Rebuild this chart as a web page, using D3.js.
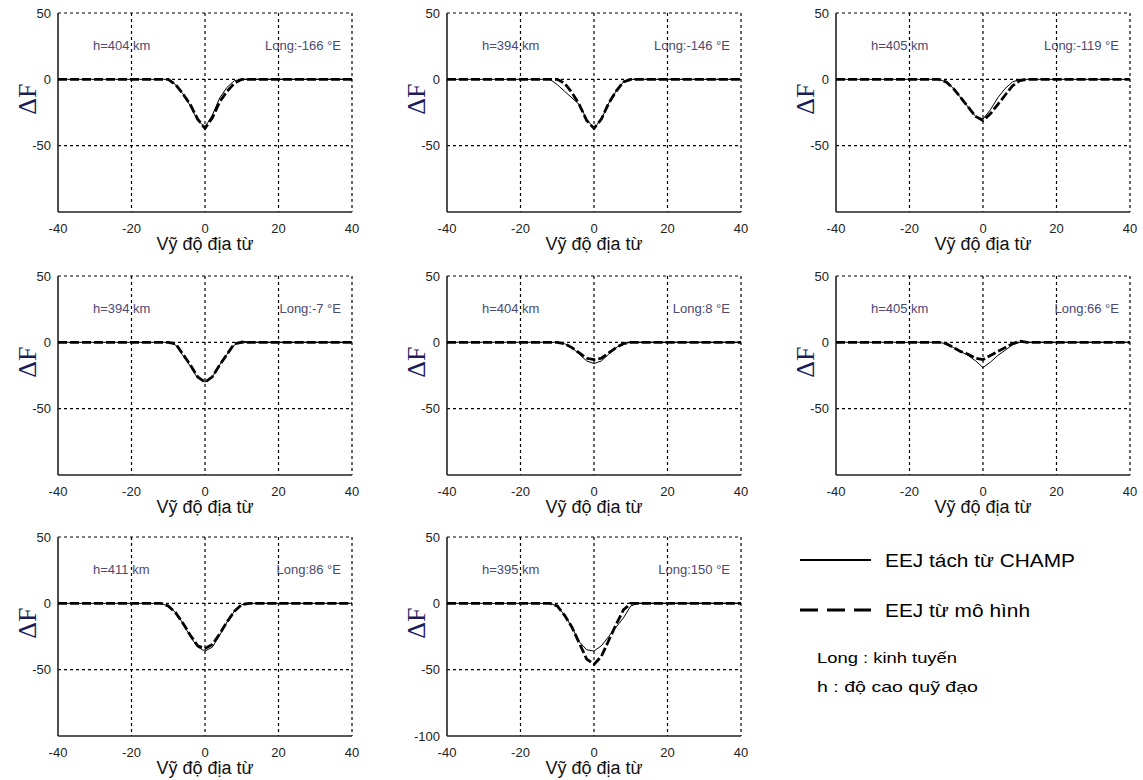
<!DOCTYPE html>
<html>
<head>
<meta charset="utf-8">
<script src="https://cdn.jsdelivr.net/npm/d3@7"></script>
<style>
  body { margin: 0; background: #fff; }
  svg { display: block; font-family: Arial, "Liberation Sans", sans-serif; }
</style>
</head>
<body>
<svg id="chart" width="1143" height="780"></svg>
<script>
// Magnetic latitude sample points (deg)
const lat = [-40, -12, -10, -8, -6, -4, -2, 0, 2, 4, 6, 8, 10, 12, 40];

// Panel labels
const heights = ["h=404 km", "h=394 km", "h=405 km", "h=394 km", "h=404 km", "h=405 km", "h=411 km", "h=395 km"];
const longs = ["Long:-166 °E", "Long:-146 °E", "Long:-119 °E", "Long:-7 °E", "Long:8 °E", "Long:66 °E", "Long:86 °E", "Long:150 °E"];

// EEJ extracted from CHAMP (solid thin line)
const champ = [
  [0, 0, 0, -4, -11, -20, -31, -36, -27, -14, -6, -1, 0, 0, 0],
  [0, 0, -4, -9, -14, -19, -30, -37, -30, -18, -9, -2, 0, 0, 0],
  [0, 0, -2, -7, -14, -21, -28, -30, -23, -14, -7, -2, 0, 0, 0],
  [0, 0, 0, -2, -10, -18, -27, -30, -26, -17, -9, -2, 1, 0, 0],
  [0, 0, 0, -1, -4, -9, -14, -16, -14, -9, -4, -1, 0, 0, 0],
  [0, 0, -1, -4, -7, -10, -14, -19, -15, -10, -6, -2, 0, 0, 0],
  [0, 0, -2, -7, -15, -25, -33, -36, -33, -24, -14, -6, -1, 0, 0],
  [0, 0, -2, -9, -18, -29, -35, -36, -32, -25, -18, -11, -2, 0, 0]
];

// EEJ from model (thick dashed line)
const model = [
  [0, 0, 0, -4, -11, -19, -30, -37, -29, -17, -9, -3, 0, 0, 0],
  [0, 0, 0, -3, -10, -19, -31, -37, -30, -18, -9, -2, 0, 0, 0],
  [0, 0, -2, -7, -14, -21, -28, -31, -26, -19, -12, -5, -1, 0, 0],
  [0, 0, 0, -1, -9, -17, -26, -30, -26, -17, -9, -1, 0, 0, 0],
  [0, 0, 0, -1, -4, -8, -12, -13, -12, -8, -4, -1, 0, 0, 0],
  [0, 0, -1, -4, -7, -9, -12, -13, -10, -7, -4, -1, 1, 0, 0],
  [0, 0, -2, -7, -15, -24, -32, -34, -31, -23, -14, -6, -1, 0, 0],
  [0, 0, -2, -9, -18, -30, -42, -46, -40, -28, -16, -5, 0, 0, 0]
];

const xTicks = [-40, -20, 0, 20, 40];
const yTicks = [50, 0, -50];
const yTicksLast = [50, 0, -50, -100];
const legendLabels = ["EEJ tách từ CHAMP", "EEJ từ mô hình"];
const notes = ["Long : kinh tuyến", "h : độ cao quỹ đạo"];

const svg = d3.select("#chart");
const colX = [58, 447, 836];
const rowY = [13, 276, 537];
const W = 294, H = 199;

const x = d3.scaleLinear().domain([-40, 40]).range([0, W]);
const y = d3.scaleLinear().domain([-100, 50]).range([H, 0]);
const line = d3.line().x((d, i) => x(lat[i])).y(d => y(d));

champ.forEach((series, k) => {
  const g = svg.append("g")
    .attr("transform", `translate(${colX[k % 3]},${rowY[Math.floor(k / 3)]})`);

  // dashed grid, including top and right borders
  g.selectAll(".vg").data([-20, 0, 20, 40]).enter().append("line")
    .attr("x1", d => x(d)).attr("x2", d => x(d))
    .attr("y1", 0).attr("y2", H)
    .attr("stroke", "#000").attr("stroke-width", 1.2).attr("stroke-dasharray", "3,3");
  g.selectAll(".hg").data([50, 0, -50]).enter().append("line")
    .attr("x1", 0).attr("x2", W)
    .attr("y1", d => y(d)).attr("y2", d => y(d))
    .attr("stroke", "#000").attr("stroke-width", 1.2).attr("stroke-dasharray", "3,3");

  // solid left and bottom axes
  g.append("line").attr("x1", 0).attr("x2", 0).attr("y1", 0).attr("y2", H)
    .attr("stroke", "#222").attr("stroke-width", 1.6);
  g.append("line").attr("x1", 0).attr("x2", W).attr("y1", H).attr("y2", H)
    .attr("stroke", "#222").attr("stroke-width", 1.6);

  // tick labels
  g.selectAll(".xt").data(xTicks).enter().append("text")
    .attr("x", d => x(d)).attr("y", H + 21)
    .attr("text-anchor", "middle").attr("font-size", 13).attr("fill", "#222")
    .text(d => d);
  g.selectAll(".yt").data(k === 7 ? yTicksLast : yTicks).enter().append("text")
    .attr("x", -7).attr("y", d => y(d) + 4.5)
    .attr("text-anchor", "end").attr("font-size", 13).attr("fill", "#222")
    .text(d => d);

  // axis titles
  g.append("text")
    .attr("x", W / 2).attr("y", H + 38)
    .attr("text-anchor", "middle").attr("font-size", 18).attr("fill", "#111")
    .text("Vỹ độ địa từ");
  g.append("text")
    .attr("transform", `translate(${-22},${y(-15)}) rotate(-90)`)
    .attr("text-anchor", "middle")
    .attr("font-family", "'Liberation Serif', 'DejaVu Serif', serif")
    .attr("font-size", 26).attr("fill", "#1c1c5c")
    .text("ΔF");

  // annotations
  g.append("text").attr("x", 35).attr("y", 37)
    .attr("font-size", 13).attr("fill", "#4a4a72").text(heights[k]);
  g.append("text").attr("x", W - 11).attr("y", 37)
    .attr("text-anchor", "end")
    .attr("font-size", 13).attr("fill", "#4a4a72").text(longs[k]);

  // curves
  g.append("path").datum(series).attr("d", line)
    .attr("fill", "none").attr("stroke", "#000").attr("stroke-width", 1);
  g.append("path").datum(model[k]).attr("d", line)
    .attr("fill", "none").attr("stroke", "#000").attr("stroke-width", 2.8)
    .attr("stroke-dasharray", "9,3");
});

// legend
const lg = svg.append("g");
const dashes = [null, "18,9"];
const legendWidths = [190, 145];
legendLabels.forEach((label, i) => {
  const ly = 560 + i * 50;
  lg.append("line").attr("x1", 800).attr("x2", 871).attr("y1", ly).attr("y2", ly)
    .attr("stroke", "#000").attr("stroke-width", i === 0 ? 2 : 3)
    .attr("stroke-dasharray", dashes[i]);
  lg.append("text").attr("x", 885).attr("y", ly + 7)
    .attr("font-size", 19).attr("fill", "#000")
    .attr("textLength", legendWidths[i]).attr("lengthAdjust", "spacingAndGlyphs")
    .text(label);
});
const noteWidths = [140, 161];
notes.forEach((t, i) => {
  lg.append("text").attr("x", 817).attr("y", 663 + i * 29)
    .attr("font-size", 15).attr("fill", "#000")
    .attr("textLength", noteWidths[i]).attr("lengthAdjust", "spacingAndGlyphs")
    .text(t);
});
</script>
</body>
</html>
